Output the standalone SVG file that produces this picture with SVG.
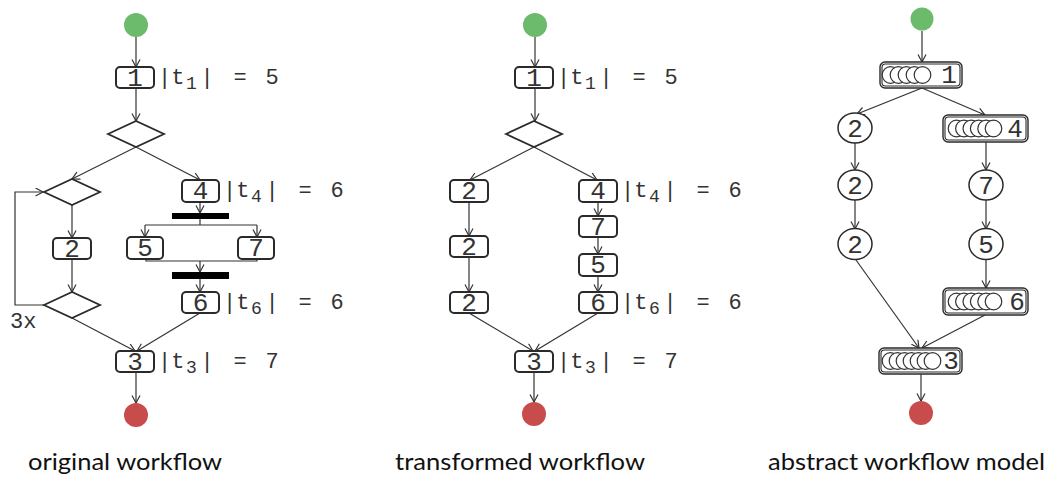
<svg xmlns="http://www.w3.org/2000/svg" width="1050" height="477" viewBox="0 0 1050 477">
  <defs>
    <marker id="arr" markerWidth="10" markerHeight="10" refX="8" refY="4.5" orient="auto" markerUnits="userSpaceOnUse">
      <path d="M0.5,0.5 L8,4.5 L0.5,8.5" fill="none" stroke="#333" stroke-width="1.2"/>
    </marker>
    <style>
      .edge { fill: none; stroke: #333; stroke-width: 1.2; }
      .arrow { marker-end: url(#arr); }
      .task { fill: #fff; stroke: #2a2a2a; stroke-width: 2; }
      .gate { fill: #fff; stroke: #2a2a2a; stroke-width: 1.8; }
      .bar { fill: #000; }
      .start { fill: #6cbb6c; }
      .end { fill: #c94c4c; }
      .num { font-family: "Liberation Mono", "DejaVu Sans Mono", monospace; font-size: 26px; fill: #333; text-anchor: middle; }
      .lbl { font-family: "Liberation Mono", "DejaVu Sans Mono", monospace; font-size: 22px; fill: #333; }
      .sub { font-size: 18px; }
      .job { fill: #fff; stroke: #2a2a2a; stroke-width: 1.4; }
      .jobin { fill: none; stroke: #2a2a2a; stroke-width: 1.1; }
      .tick { fill: #fff; stroke: #333; stroke-width: 1.2; }
      .act { fill: #fff; stroke: #2a2a2a; stroke-width: 1.5; }
      .cap { font-family: Lato, "Open Sans", sans-serif; font-size: 24px; fill: #111; }
    </style>
  </defs>

  <!-- ========== original workflow ========== -->
  <g id="orig-connectors">
    <line class="edge arrow" x1="136" y1="37" x2="136" y2="67"/>
    <line class="edge arrow" x1="136" y1="88" x2="136" y2="121"/>
    <line class="edge arrow" x1="136" y1="147" x2="72" y2="179"/>
    <line class="edge arrow" x1="136" y1="147" x2="200" y2="180"/>
    <line class="edge arrow" x1="200" y1="202" x2="200" y2="213"/>
    <polyline class="edge" points="200,219 200,225"/>
    <line class="edge" x1="145" y1="225" x2="257" y2="225"/>
    <line class="edge arrow" x1="145" y1="225" x2="145" y2="237"/>
    <line class="edge arrow" x1="257" y1="225" x2="257" y2="237"/>
    <polyline class="edge" points="146,259 146,261 257,261 257,259"/>
    <line class="edge arrow" x1="200" y1="261" x2="200" y2="272"/>
    <line class="edge arrow" x1="200" y1="279" x2="200" y2="292"/>
    <line class="edge arrow" x1="72" y1="205" x2="72" y2="238"/>
    <line class="edge arrow" x1="72" y1="259" x2="72" y2="292"/>
    <polyline class="edge arrow" points="44,305 15,305 15,192 43,192"/>
    <line class="edge arrow" x1="72" y1="318" x2="135" y2="351"/>
    <line class="edge arrow" x1="200" y1="313" x2="137" y2="351"/>
    <line class="edge arrow" x1="136" y1="372" x2="136" y2="403"/>
  </g>
  <g id="orig-start"><circle class="start" cx="136" cy="25" r="12"/></g>
  <g id="orig-t1">
    <rect class="task" x="116" y="67" width="38" height="21" rx="4"/>
    <text class="num" x="135" y="86">1</text>
    <text class="lbl" y="84"><tspan x="158">|t</tspan><tspan class="sub" x="186" dy="5">1</tspan><tspan x="200.4" dy="-5">|</tspan><tspan x="233.4">=</tspan><tspan x="265.4">5</tspan></text>
  </g>
  <g id="orig-split"><polygon class="gate" points="108,134 136,121 164,134 136,147"/></g>
  <g id="orig-loop-in"><polygon class="gate" points="44,192 72,179 100,192 72,205"/></g>
  <g id="orig-t2">
    <rect class="task" x="53" y="238" width="38" height="21" rx="4"/>
    <text class="num" x="72" y="257">2</text>
  </g>
  <g id="orig-loop-out">
    <polygon class="gate" points="44,305 72,292 100,305 72,318"/>
    <text class="lbl" x="10" y="328">3x</text>
  </g>
  <g id="orig-t4">
    <rect class="task" x="182" y="180" width="37" height="22" rx="4"/>
    <text class="num" x="200.5" y="199">4</text>
    <text class="lbl" y="197"><tspan x="223">|t</tspan><tspan class="sub" x="251" dy="5">4</tspan><tspan x="265.4" dy="-5">|</tspan><tspan x="298.4">=</tspan><tspan x="330.4">6</tspan></text>
  </g>
  <g id="orig-fork"><rect class="bar" x="172" y="213" width="57" height="6"/></g>
  <g id="orig-t5">
    <rect class="task" x="127" y="237" width="36" height="22" rx="4"/>
    <text class="num" x="145" y="256">5</text>
  </g>
  <g id="orig-t7">
    <rect class="task" x="238" y="237" width="36" height="22" rx="4"/>
    <text class="num" x="256" y="256">7</text>
  </g>
  <g id="orig-join"><rect class="bar" x="172" y="272" width="57" height="7"/></g>
  <g id="orig-t6">
    <rect class="task" x="182" y="292" width="37" height="21" rx="4"/>
    <text class="num" x="200.5" y="311">6</text>
    <text class="lbl" y="309"><tspan x="223">|t</tspan><tspan class="sub" x="251" dy="5">6</tspan><tspan x="265.4" dy="-5">|</tspan><tspan x="298.4">=</tspan><tspan x="330.4">6</tspan></text>
  </g>
  <g id="orig-t3">
    <rect class="task" x="116" y="351" width="38" height="21" rx="4"/>
    <text class="num" x="135" y="370">3</text>
    <text class="lbl" y="368"><tspan x="158">|t</tspan><tspan class="sub" x="186" dy="5">3</tspan><tspan x="200.4" dy="-5">|</tspan><tspan x="233.4">=</tspan><tspan x="265.4">7</tspan></text>
  </g>
  <g id="orig-end"><circle class="end" cx="136" cy="415" r="12"/></g>

  <!-- ========== transformed workflow ========== -->
  <g id="trans-connectors">
    <line class="edge arrow" x1="535" y1="37" x2="535" y2="67"/>
    <line class="edge arrow" x1="535" y1="88" x2="535" y2="121"/>
    <line class="edge arrow" x1="534" y1="147" x2="470" y2="180"/>
    <line class="edge arrow" x1="534" y1="147" x2="597" y2="180"/>
    <line class="edge arrow" x1="469" y1="202" x2="469" y2="236"/>
    <line class="edge arrow" x1="469" y1="257" x2="469" y2="292"/>
    <line class="edge arrow" x1="598" y1="202" x2="598" y2="216"/>
    <line class="edge arrow" x1="598" y1="237" x2="598" y2="254"/>
    <line class="edge arrow" x1="598" y1="276" x2="598" y2="292"/>
    <line class="edge arrow" x1="469" y1="313" x2="533" y2="351"/>
    <line class="edge arrow" x1="598" y1="313" x2="535" y2="351"/>
    <line class="edge arrow" x1="534" y1="372" x2="534" y2="402"/>
  </g>
  <g id="trans-start"><circle class="start" cx="535" cy="25" r="12"/></g>
  <g id="trans-t1">
    <rect class="task" x="515" y="67" width="38" height="21" rx="4"/>
    <text class="num" x="534" y="86">1</text>
    <text class="lbl" y="84"><tspan x="557">|t</tspan><tspan class="sub" x="585" dy="5">1</tspan><tspan x="599.4" dy="-5">|</tspan><tspan x="632.4">=</tspan><tspan x="664.4">5</tspan></text>
  </g>
  <g id="trans-split"><polygon class="gate" points="506,134 534,121 562,134 534,147"/></g>
  <g id="trans-t2a">
    <rect class="task" x="450" y="180" width="38" height="22" rx="4"/>
    <text class="num" x="469" y="199">2</text>
  </g>
  <g id="trans-t2b">
    <rect class="task" x="450" y="236" width="38" height="21" rx="4"/>
    <text class="num" x="469" y="255">2</text>
  </g>
  <g id="trans-t2c">
    <rect class="task" x="450" y="292" width="38" height="21" rx="4"/>
    <text class="num" x="469" y="311">2</text>
  </g>
  <g id="trans-t4">
    <rect class="task" x="579" y="180" width="38" height="22" rx="4"/>
    <text class="num" x="598" y="199">4</text>
    <text class="lbl" y="197"><tspan x="621">|t</tspan><tspan class="sub" x="649" dy="5">4</tspan><tspan x="663.4" dy="-5">|</tspan><tspan x="696.4">=</tspan><tspan x="728.4">6</tspan></text>
  </g>
  <g id="trans-t7">
    <rect class="task" x="579" y="216" width="38" height="21" rx="4"/>
    <text class="num" x="598" y="235">7</text>
  </g>
  <g id="trans-t5">
    <rect class="task" x="579" y="254" width="38" height="22" rx="4"/>
    <text class="num" x="598" y="273">5</text>
  </g>
  <g id="trans-t6">
    <rect class="task" x="579" y="292" width="38" height="21" rx="4"/>
    <text class="num" x="598" y="311">6</text>
    <text class="lbl" y="309"><tspan x="621">|t</tspan><tspan class="sub" x="649" dy="5">6</tspan><tspan x="663.4" dy="-5">|</tspan><tspan x="696.4">=</tspan><tspan x="728.4">6</tspan></text>
  </g>
  <g id="trans-t3">
    <rect class="task" x="515" y="351" width="38" height="21" rx="4"/>
    <text class="num" x="534" y="370">3</text>
    <text class="lbl" y="368"><tspan x="557">|t</tspan><tspan class="sub" x="585" dy="5">3</tspan><tspan x="599.4" dy="-5">|</tspan><tspan x="632.4">=</tspan><tspan x="664.4">7</tspan></text>
  </g>
  <g id="trans-end"><circle class="end" cx="534" cy="414" r="12"/></g>

  <!-- ========== abstract workflow model ========== -->
  <g id="abs-connectors">
    <line class="edge arrow" x1="922" y1="31" x2="922" y2="62"/>
    <line class="edge arrow" x1="922" y1="88" x2="857" y2="114"/>
    <line class="edge arrow" x1="922" y1="88" x2="985" y2="115"/>
    <line class="edge arrow" x1="855" y1="143" x2="855" y2="170"/>
    <line class="edge arrow" x1="855" y1="200" x2="855" y2="229"/>
    <line class="edge arrow" x1="986" y1="142" x2="986" y2="170"/>
    <line class="edge arrow" x1="986" y1="200" x2="986" y2="229"/>
    <line class="edge arrow" x1="986" y1="259" x2="986" y2="288"/>
    <line class="edge arrow" x1="856" y1="260" x2="919" y2="348"/>
    <line class="edge arrow" x1="985" y1="315" x2="922" y2="348"/>
    <line class="edge arrow" x1="921" y1="374" x2="921" y2="401"/>
  </g>
  <g id="abs-start"><circle class="start" cx="922" cy="19" r="11.5"/></g>
  <g id="abs-j1">
    <rect class="job" x="880" y="62" width="82" height="26" rx="5"/>
    <rect class="jobin" x="882" y="64" width="78" height="22" rx="3.5"/>
    <circle class="tick" cx="890.5" cy="75" r="8.3"/>
    <circle class="tick" cx="898.5" cy="75" r="8.3"/>
    <circle class="tick" cx="906.5" cy="75" r="8.3"/>
    <circle class="tick" cx="914.5" cy="75" r="8.3"/>
    <circle class="tick" cx="922.5" cy="75" r="8.3"/>
    <text class="num" x="949" y="83">1</text>
  </g>
  <g id="abs-a2a">
    <ellipse class="act" cx="855" cy="128" rx="17" ry="15"/>
    <text class="num" x="855" y="137">2</text>
  </g>
  <g id="abs-a2b">
    <ellipse class="act" cx="855" cy="185" rx="17" ry="15"/>
    <text class="num" x="855" y="194">2</text>
  </g>
  <g id="abs-a2c">
    <ellipse class="act" cx="855" cy="244" rx="17" ry="15.5"/>
    <text class="num" x="855" y="253">2</text>
  </g>
  <g id="abs-j4">
    <rect class="job" x="943" y="115" width="85" height="27" rx="5"/>
    <rect class="jobin" x="945" y="117" width="81" height="23" rx="3.5"/>
    <circle class="tick" cx="956.5" cy="128.5" r="8.3"/>
    <circle class="tick" cx="963.9" cy="128.5" r="8.3"/>
    <circle class="tick" cx="971.3" cy="128.5" r="8.3"/>
    <circle class="tick" cx="978.7" cy="128.5" r="8.3"/>
    <circle class="tick" cx="986.1" cy="128.5" r="8.3"/>
    <circle class="tick" cx="993.5" cy="128.5" r="8.3"/>
    <text class="num" x="1015" y="137">4</text>
  </g>
  <g id="abs-a7">
    <ellipse class="act" cx="986" cy="185" rx="17" ry="15"/>
    <text class="num" x="986" y="194">7</text>
  </g>
  <g id="abs-a5">
    <ellipse class="act" cx="986" cy="244" rx="17" ry="15.5"/>
    <text class="num" x="986" y="253">5</text>
  </g>
  <g id="abs-j6">
    <rect class="job" x="943" y="288" width="85" height="27" rx="5"/>
    <rect class="jobin" x="945" y="290" width="81" height="23" rx="3.5"/>
    <circle class="tick" cx="956.5" cy="301.5" r="8.3"/>
    <circle class="tick" cx="963.9" cy="301.5" r="8.3"/>
    <circle class="tick" cx="971.3" cy="301.5" r="8.3"/>
    <circle class="tick" cx="978.7" cy="301.5" r="8.3"/>
    <circle class="tick" cx="986.1" cy="301.5" r="8.3"/>
    <circle class="tick" cx="993.5" cy="301.5" r="8.3"/>
    <text class="num" x="1017" y="310">6</text>
  </g>
  <g id="abs-j3">
    <rect class="job" x="879" y="348" width="83" height="26" rx="5"/>
    <rect class="jobin" x="881" y="350" width="79" height="22" rx="3.5"/>
    <circle class="tick" cx="890.5" cy="361" r="8.3"/>
    <circle class="tick" cx="897.5" cy="361" r="8.3"/>
    <circle class="tick" cx="904.5" cy="361" r="8.3"/>
    <circle class="tick" cx="911.5" cy="361" r="8.3"/>
    <circle class="tick" cx="918.5" cy="361" r="8.3"/>
    <circle class="tick" cx="925.5" cy="361" r="8.3"/>
    <circle class="tick" cx="932.5" cy="361" r="8.3"/>
    <text class="num" x="951" y="369">3</text>
  </g>
  <g id="abs-end"><circle class="end" cx="921" cy="413" r="12"/></g>

  <!-- captions -->
  <g id="captions">
    <text class="cap" x="28" y="470" textLength="194" lengthAdjust="spacingAndGlyphs">original workflow</text>
    <text class="cap" x="395" y="470" textLength="250" lengthAdjust="spacingAndGlyphs">transformed workflow</text>
    <text class="cap" x="768" y="470" textLength="277" lengthAdjust="spacingAndGlyphs">abstract workflow model</text>
  </g>
</svg>
